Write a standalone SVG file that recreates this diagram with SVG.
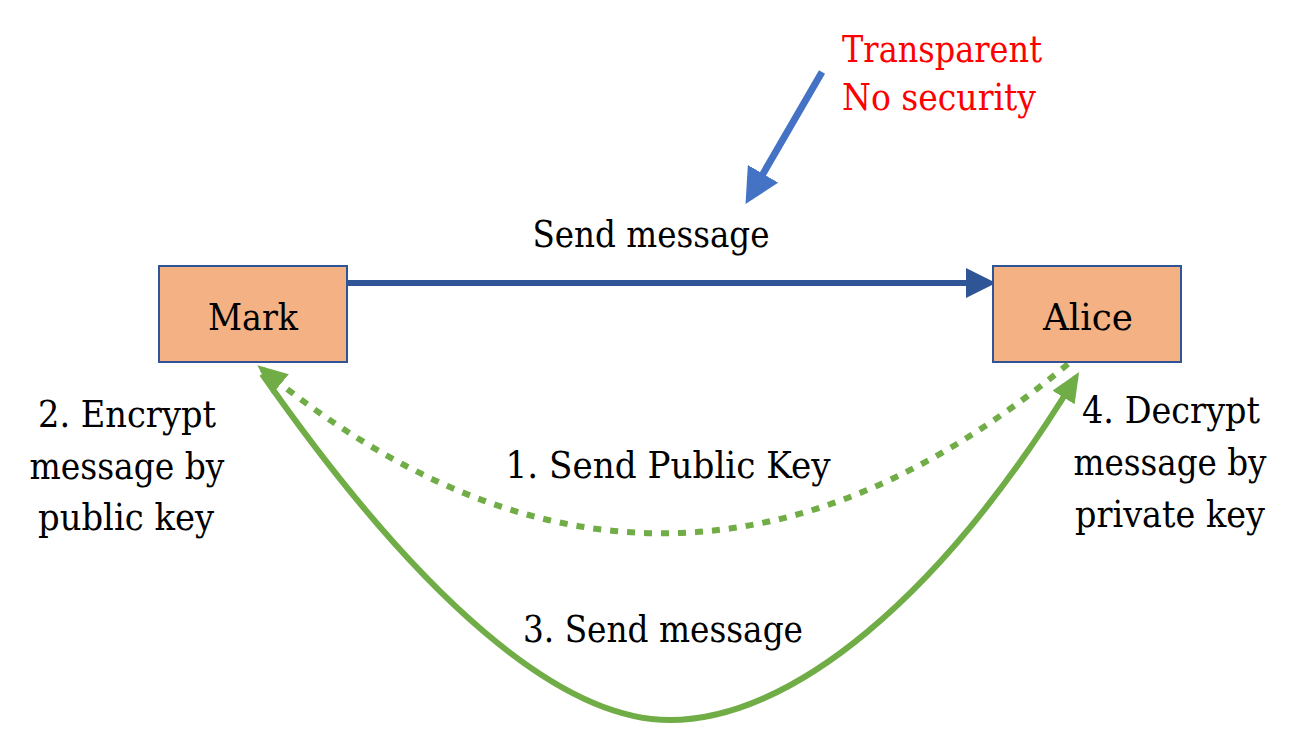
<svg xmlns="http://www.w3.org/2000/svg" width="1298" height="748" viewBox="0 0 1298 748">
<style>
.t{font-family:'DejaVu Serif','Liberation Serif',serif;font-size:38px;fill:#000}
.red{fill:#FF0000}
.box{fill:#F4B183;stroke:#2F5597;stroke-width:2}
.g{fill:none;stroke:#70AD47;stroke-width:6}
</style>
<defs>
<marker id="ab" markerWidth="5" markerHeight="5" refX="4" refY="2.5" orient="auto" markerUnits="strokeWidth"><path d="M0,0 L5,2.5 L0,5 z" fill="#2F5597"/></marker>
<marker id="ab2" markerWidth="5" markerHeight="5" refX="4" refY="2.5" orient="auto" markerUnits="strokeWidth"><path d="M0,0 L5,2.5 L0,5 z" fill="#4472C4"/></marker>
<marker id="ag" markerWidth="5" markerHeight="4.4" refX="4" refY="2.2" orient="auto" markerUnits="userSpaceOnUse" viewBox="0 0 5 4.4"><path d="M0,0 L5,2.2 L0,4.4 z" fill="#70AD47"/></marker>
<marker id="ag2" markerWidth="30" markerHeight="26" refX="24" refY="13" orient="auto" markerUnits="userSpaceOnUse"><path d="M0,0 L30,13 L0,26 z" fill="#70AD47"/></marker>
</defs>
<g id="connectors">
<line x1="347" y1="283" x2="990" y2="283" stroke="#2F5597" stroke-width="6" marker-end="url(#ab)"/>
<line x1="822" y1="72" x2="749" y2="198" stroke="#4472C4" stroke-width="7" marker-end="url(#ab2)"/>
<path class="g" d="M1068,364 Q665,700 262,369" stroke-width="7.5" stroke-dasharray="8,9" marker-end="url(#ag2)"/>
<path class="g" d="M262,374 C420,600 560,720 670,720 C790,720 940,600 1076,377" marker-end="url(#ag2)"/>
</g>
<g id="mark"><rect class="box" x="159" y="266" width="188" height="96"/><text class="t" x="253" y="330" text-anchor="middle" textLength="90" lengthAdjust="spacingAndGlyphs">Mark</text></g>
<g id="alice"><rect class="box" x="993" y="266" width="188" height="96"/><text class="t" x="1088" y="330" text-anchor="middle" textLength="90" lengthAdjust="spacingAndGlyphs">Alice</text></g>
<g id="labels">
<text class="t" x="651" y="247" text-anchor="middle" textLength="237" lengthAdjust="spacingAndGlyphs">Send message</text>
<text class="t red" x="842" y="62" textLength="200" lengthAdjust="spacingAndGlyphs">Transparent</text>
<text class="t red" x="842" y="110" textLength="194" lengthAdjust="spacingAndGlyphs">No security</text>
<text class="t" x="127" y="427" text-anchor="middle" textLength="178" lengthAdjust="spacingAndGlyphs">2. Encrypt</text>
<text class="t" x="127" y="479" text-anchor="middle" textLength="195" lengthAdjust="spacingAndGlyphs">message by</text>
<text class="t" x="126" y="530" text-anchor="middle" textLength="176" lengthAdjust="spacingAndGlyphs">public key</text>
<text class="t" x="668" y="478" text-anchor="middle" textLength="325" lengthAdjust="spacingAndGlyphs">1. Send Public Key</text>
<text class="t" x="1171" y="423" text-anchor="middle" textLength="178" lengthAdjust="spacingAndGlyphs">4. Decrypt</text>
<text class="t" x="1170" y="475" text-anchor="middle" textLength="193" lengthAdjust="spacingAndGlyphs">message by</text>
<text class="t" x="1170" y="527" text-anchor="middle" textLength="190" lengthAdjust="spacingAndGlyphs">private key</text>
<text class="t" x="663" y="642" text-anchor="middle" textLength="280" lengthAdjust="spacingAndGlyphs">3. Send message</text>
</g>
</svg>
